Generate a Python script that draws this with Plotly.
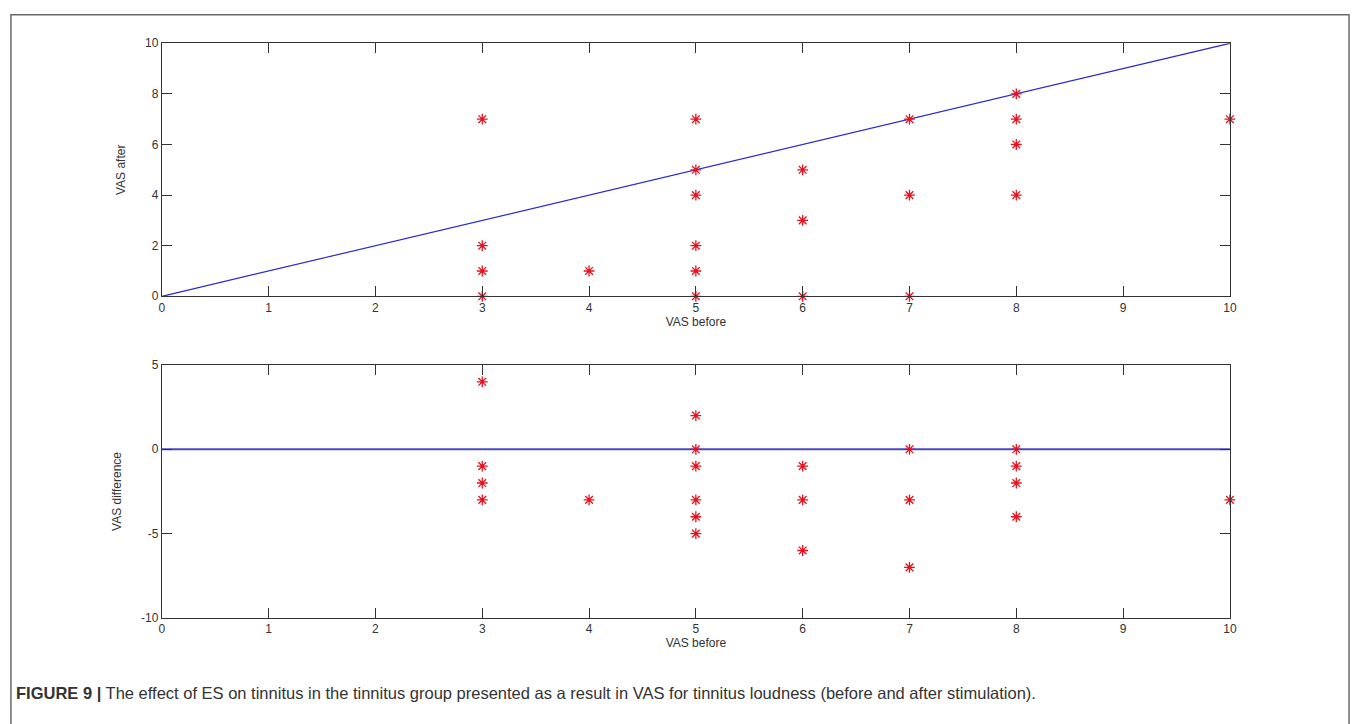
import plotly.graph_objects as go

# ---- data ----
vas_before = [3, 3, 3, 3, 4, 5, 5, 5, 5, 5, 5, 6, 6, 6, 7, 7, 7, 8, 8, 8, 8, 10]
vas_after = [7, 2, 1, 0, 1, 7, 5, 4, 2, 1, 0, 5, 3, 0, 7, 4, 0, 8, 7, 6, 4, 7]
vas_difference = [a - b for a, b in zip(vas_after, vas_before)]

identity_x = [0, 10]
identity_y = [0, 10]
zero_x = [0, 10]
zero_y = [0, 0]

x_ticks = [0, 1, 2, 3, 4, 5, 6, 7, 8, 9, 10]
top_y_ticks = [0, 2, 4, 6, 8, 10]
bottom_y_ticks = [-10, -5, 0, 5]
bottom_y_labels = ["-10", "-5", "0", "5"]

caption_bold = "FIGURE 9 |"
caption_text = (" The effect of ES on tinnitus in the tinnitus group presented as a result "
                "in VAS for tinnitus loudness (before and after stimulation).")

# ---- style ----
W, H = 1360, 724
RED = "#e8101c"
BLUE = "#2a2ad0"
AXC = "#333333"


def px_x(p):
    return p / W


def px_y(p):
    return 1 - p / H


fig = go.Figure()

marker_style = dict(symbol="asterisk-open", size=9, color=RED,
                    line=dict(color=RED, width=1.3))

fig.add_trace(go.Scatter(x=identity_x, y=identity_y, mode="lines",
                         line=dict(color=BLUE, width=1.2), xaxis="x", yaxis="y",
                         showlegend=False, hoverinfo="skip"))
fig.add_trace(go.Scatter(x=vas_before, y=vas_after, mode="markers", cliponaxis=False,
                         marker=marker_style, xaxis="x", yaxis="y", showlegend=False))

fig.add_trace(go.Scatter(x=zero_x, y=zero_y, mode="lines",
                         line=dict(color="#4a4ac0", width=2), xaxis="x2", yaxis="y2",
                         showlegend=False, hoverinfo="skip"))
fig.add_trace(go.Scatter(x=vas_before, y=vas_difference, mode="markers", cliponaxis=False,
                         marker=marker_style, xaxis="x2", yaxis="y2", showlegend=False))

axis_common = dict(showline=True, linecolor=AXC, linewidth=1, mirror="allticks",
                   ticks="inside", ticklen=10, tickcolor=AXC, tickwidth=1,
                   showgrid=False, zeroline=False,
                   tickfont=dict(family="Liberation Sans, Arial", size=12, color=AXC),
                   title_font=dict(family="Liberation Sans, Arial", size=12, color=AXC))

xdom = [px_x(160), px_x(1236)]

fig.update_layout(
    autosize=True,
    margin=dict(l=0, r=0, t=0, b=0),
    paper_bgcolor="white", plot_bgcolor="white",
    xaxis=dict(domain=xdom, range=[0, 10], tickvals=x_ticks, anchor="y",
               title=dict(text="VAS before", standoff=0), **axis_common),
    yaxis=dict(domain=[px_y(295), px_y(37)], range=[0, 10], tickvals=top_y_ticks,
               anchor="x", title=dict(text="VAS after", standoff=16), **axis_common),
    xaxis2=dict(domain=xdom, range=[0, 10], tickvals=x_ticks, anchor="y2",
                title=dict(text="VAS before", standoff=0), **axis_common),
    yaxis2=dict(domain=[px_y(623), px_y(365)], range=[-10, 5], tickvals=bottom_y_ticks,
                ticktext=bottom_y_labels,
                anchor="x2", title=dict(text="VAS difference", standoff=16), **axis_common),
    shapes=[dict(type="rect", xref="paper", yref="paper",
                 x0=px_x(8), x1=px_x(1356), y0=-0.02, y1=px_y(8),
                 line=dict(color="#6a6a6a", width=1.5), fillcolor="rgba(0,0,0,0)",
                 layer="below")],
    annotations=[dict(xref="paper", yref="paper", x=px_x(11), y=px_y(700),
                      xanchor="left", yanchor="middle", showarrow=False,
                      text="<b>" + caption_bold + "</b>" + caption_text,
                      font=dict(family="Liberation Sans, Arial", size=16.5, color="#333333"))],
)

post = ("document.documentElement.style.margin='0';"
        "document.body.style.margin='0';"
        "document.documentElement.style.overflow='hidden';"
        "document.body.style.overflow='hidden';"
        "var gd=document.getElementById('{plot_id}');"
        "Plotly.Plots.resize(gd);")

fig.write_html("out.html",
               config={"displayModeBar": False, "responsive": True},
               default_width="100vw", default_height="100vh",
               post_script=post)
